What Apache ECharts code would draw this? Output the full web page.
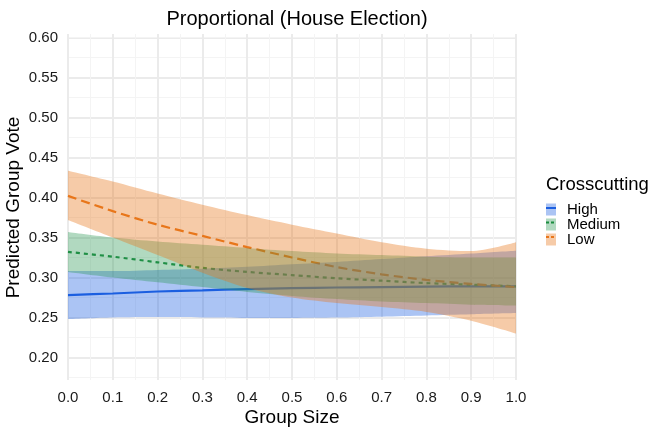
<!DOCTYPE html>
<html>
<head>
<meta charset="utf-8">
<script src="https://cdn.jsdelivr.net/npm/echarts@6/dist/echarts.min.js"></script>
<style>
    html, body { margin: 0; padding: 0; background: #fff; }
    #chart_main { width: 657px; height: 434px; }
</style>
</head>
<body>
<div id="chart_main"></div>
<script>
// group size on the x axis
const xVals = [0, 0.1, 0.2, 0.3, 0.4, 0.5, 0.6, 0.7, 0.8, 0.9, 1.0];

// High crosscutting
const highFit = [0.278, 0.280, 0.2825, 0.284, 0.2855, 0.2867, 0.2875, 0.288, 0.2885, 0.289, 0.289];
const highLow = [0.248, 0.250, 0.2505, 0.250, 0.2495, 0.2495, 0.250, 0.251, 0.2525, 0.254, 0.2555];
const highUp = [0.308, 0.308, 0.3095, 0.311, 0.3135, 0.3167, 0.3195, 0.323, 0.3265, 0.330, 0.3335];

// Medium crosscutting
const medFit = [0.332, 0.326, 0.319, 0.312, 0.307, 0.303, 0.299, 0.296, 0.293, 0.291, 0.289];
const medLow = [0.307, 0.300, 0.294, 0.288, 0.282, 0.277, 0.273, 0.270, 0.268, 0.266, 0.265];
const medUp = [0.357, 0.350, 0.345, 0.341, 0.337, 0.333, 0.330, 0.328, 0.326, 0.325, 0.325];

// Low crosscutting
const lowFit = [0.402, 0.383, 0.366, 0.352, 0.338, 0.325, 0.313, 0.304, 0.297, 0.292, 0.288];
const lowLow = [0.372, 0.350, 0.328, 0.306, 0.287, 0.275, 0.268, 0.263, 0.257, 0.246, 0.230];
const lowUp = [0.4335, 0.420, 0.405, 0.391, 0.378, 0.366, 0.355, 0.344, 0.336, 0.333, 0.344];

const groups = [
    {name: 'High', fit: highFit, lo: highLow, up: highUp, color: '#1c5fe0', fill: 'rgba(28,95,224,0.37)', dash: 'solid'},
    {name: 'Medium', fit: medFit, lo: medLow, up: medUp, color: '#1b8c3f', fill: 'rgba(40,150,80,0.36)', dash: [4, 4]},
    {name: 'Low', fit: lowFit, lo: lowLow, up: lowUp, color: '#e8761a', fill: 'rgba(232,118,26,0.38)', dash: [9, 5]}
];

const FONT = 'Liberation Sans, Arial, sans-serif';
const MAJOR = '#ebebeb';
const MINOR = '#f4f4f4';

let myChart = echarts.init(document.getElementById('chart_main'), null, {renderer: 'canvas'});

let series = [];
// fitted lines go under the ribbons, like geom_line then geom_ribbon
groups.forEach(function (g) {
    series.push({
        name: g.name,
        type: 'line',
        xAxisIndex: 0, yAxisIndex: 0,
        data: g.fit,
        smooth: 0.3,
        showSymbol: false,
        symbol: 'none',
        z: 2,
        color: g.color,
        lineStyle: {color: g.color, width: 2.2, type: g.dash}
    });
});
groups.forEach(function (g, k) {
    series.push({
        name: g.name + ' lower',
        type: 'line',
        stack: 'band' + k,
        data: g.lo,
        smooth: 0.3,
        symbol: 'none',
        z: 3,
        lineStyle: {opacity: 0}
    });
    series.push({
        name: g.name + ' band',
        type: 'line',
        stack: 'band' + k,
        data: g.up.map(function (v, i) { return +(v - g.lo[i]).toFixed(4); }),
        smooth: 0.3,
        symbol: 'none',
        z: 3,
        lineStyle: {opacity: 0},
        areaStyle: {color: g.fill, opacity: 1}
    });
});

let option = {
    animation: false,
    backgroundColor: '#ffffff',
    title: {
        text: 'Proportional (House Election)',
        left: 292,
        textAlign: 'center',
        top: 4,
        textStyle: {fontFamily: FONT, fontSize: 20, fontWeight: 'normal', color: '#000'}
    },
    legend: {
        orient: 'vertical',
        left: 546,
        top: 202,
        padding: 0,
        itemWidth: 10,
        itemHeight: 12,
        itemGap: 0,
        icon: 'rect',
        textStyle: {fontFamily: FONT, fontSize: 15, color: '#000', lineHeight: 14.5, padding: [0, 0, 0, 6]},
        data: groups.map(function (g) {
            return {name: g.name, itemStyle: {color: g.fill, borderWidth: 0}};
        })
    },
    grid: [
        {left: 68, top: 37.5, width: 448, height: 340, outerBoundsMode: 'none', containLabel: false},
        {left: 68, top: 34, width: 448, height: 346, outerBoundsMode: 'none', containLabel: false}
    ],
    xAxis: [
        {
            type: 'category', gridIndex: 0, boundaryGap: false,
            data: xVals.map(function (v) { return v.toFixed(1); }),
            name: 'Group Size', nameLocation: 'middle', nameGap: 31, nameMoveOverlap: false,
            nameTextStyle: {fontFamily: FONT, fontSize: 19, color: '#000'},
            axisLine: {show: false}, axisTick: {show: false},
            splitLine: {show: false},
            axisLabel: {fontFamily: FONT, fontSize: 15, color: '#1a1a1a', margin: 13, interval: 0}
        },
        {
            type: 'value', gridIndex: 1, min: 0, max: 1, interval: 0.1,
            axisLine: {show: false}, axisTick: {show: false}, axisLabel: {show: false},
            splitLine: {show: true, lineStyle: {color: MAJOR, width: 2}},
            minorTick: {show: false, splitNumber: 2},
            minorSplitLine: {show: true, lineStyle: {color: MINOR, width: 1}}
        }
    ],
    yAxis: [
        {
            type: 'value', gridIndex: 0, min: 0.175, max: 0.6, interval: 0.025,
            name: 'Predicted Group Vote', nameLocation: 'middle', nameGap: 45, nameMoveOverlap: false,
            nameTextStyle: {fontFamily: FONT, fontSize: 19, color: '#000'},
            axisLine: {show: false}, axisTick: {show: false},
            splitLine: {show: true, lineStyle: {color: ['rgba(0,0,0,0)', MAJOR], width: 2}},
            axisLabel: {
                fontFamily: FONT, fontSize: 15, color: '#1a1a1a', margin: 10,
                formatter: function (v) {
                    return Math.round(v * 1000) % 50 === 0 ? v.toFixed(2) : '';
                }
            }
        },
        {
            // minor horizontal grid lines
            type: 'value', gridIndex: 0, min: 0.175, max: 0.6, interval: 0.05,
            position: 'left',
            axisLine: {show: false}, axisTick: {show: false}, axisLabel: {show: false},
            splitLine: {show: true, lineStyle: {color: MINOR, width: 1}}
        },
        {
            type: 'value', gridIndex: 1, min: 0, max: 1,
            axisLine: {show: false}, axisTick: {show: false}, axisLabel: {show: false},
            splitLine: {show: false}
        }
    ],
    graphic: [
        {
            type: 'text', left: 546, top: 175,
            style: {text: 'Crosscutting', font: '18.5px ' + FONT, fill: '#000'}
        }
    ].concat(groups.map(function (g, i) {
        return {
            type: 'line',
            shape: {x1: 546, y1: 208 + i * 14.5, x2: 556, y2: 208 + i * 14.5},
            style: {stroke: g.color, lineWidth: 2, lineDash: g.dash === 'solid' ? null : [3, 2]},
            z: 100
        };
    })),
    series: series
};

myChart.setOption(option);
</script>
</body>
</html>
